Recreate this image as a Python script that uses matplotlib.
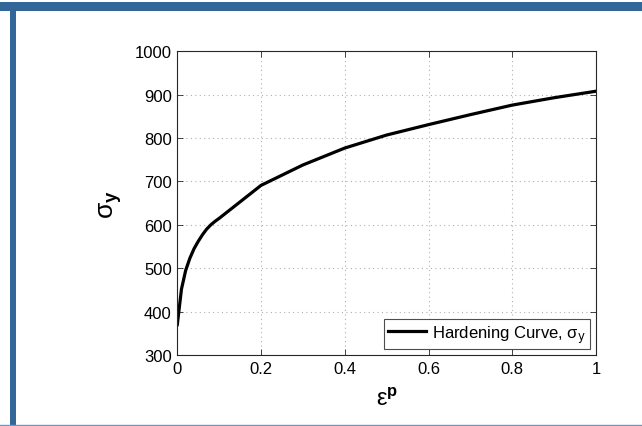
import matplotlib
matplotlib.use("Agg")
import matplotlib.pyplot as plt
from matplotlib.patches import Rectangle
from matplotlib.lines import Line2D

plt.rcParams['font.family'] = ['Liberation Sans', 'DejaVu Sans']
plt.rcParams['mathtext.fontset'] = 'custom'
plt.rcParams['mathtext.rm'] = 'Liberation Sans'
plt.rcParams['mathtext.bf'] = 'Liberation Sans:bold'
plt.rcParams['mathtext.it'] = 'Liberation Sans:italic'

# Plastic strain and yield stress along the hardening curve
plastic_strain = [0.0, 0.01, 0.02, 0.03, 0.04, 0.05, 0.06, 0.07, 0.08, 0.09, 0.1,
                  0.2, 0.3, 0.4, 0.5, 0.6, 0.7, 0.8, 0.9, 1.0]
yield_stress = [370, 452, 495, 523, 545, 562, 577, 590, 600, 608, 615,
                691, 738, 777, 807, 831, 854, 876, 893, 908]

x_ticks = [0, 0.2, 0.4, 0.6, 0.8, 1]
x_tick_labels = ['0', '0.2', '0.4', '0.6', '0.8', '1']
y_ticks = [300, 400, 500, 600, 700, 800, 900, 1000]
y_tick_labels = [str(v) for v in y_ticks]
legend_label = r'Hardening Curve, σ$_{\mathrm{\mathsf{y}}}$'

fig = plt.figure(figsize=(6.42, 4.27), dpi=100)
fig.patch.set_facecolor('white')

# page frame: top band, left bar, thin bottom rule
frame_color = '#336699'
fig.add_artist(Rectangle((0, 1 - 11.7 / 427), 1, 8.4 / 427, transform=fig.transFigure,
                         facecolor=frame_color, edgecolor='none'))
fig.add_artist(Rectangle((10 / 642, 0), 6 / 642, 1 - 11.7 / 427, transform=fig.transFigure,
                         facecolor=frame_color, edgecolor='none'))
fig.add_artist(Line2D([0, 1], [1.3 / 427, 1.3 / 427], transform=fig.transFigure,
                      color='#6f97c2', lw=1.0))

ax = fig.add_axes([177.3 / 642, 1 - 356 / 427, (596 - 177.3) / 642, (356 - 52.3) / 427])
ax.plot(plastic_strain, yield_stress, color='black', lw=2.3, label=legend_label,
        solid_joinstyle='round')

ax.set_xlim(0, 1)
ax.set_ylim(300, 1000)
ax.set_xticks(x_ticks)
ax.set_xticklabels(x_tick_labels)
ax.set_yticks(y_ticks)
ax.set_yticklabels(y_tick_labels)
ax.tick_params(direction='in', top=True, right=True, length=4, width=0.6,
               labelsize=12, pad=4, colors='#262626', labelcolor='black')
ax.grid(True, linestyle=(0, (1, 3)), color='#b0b0b0', lw=0.8)
for s in ax.spines.values():
    s.set_linewidth(0.8)
    s.set_color('#262626')

ax.set_xlabel(r'ε$^{\mathbf{p}}$', fontsize=17, labelpad=9)
ax.set_ylabel(r'σ$_{\mathbf{y}}$', fontsize=19, labelpad=8)

leg = ax.legend(loc='lower right', prop={'size': 12}, frameon=True, fancybox=False,
                borderaxespad=0.35, handlelength=2.3, handletextpad=0.35,
                borderpad=0.25, framealpha=1)
leg.get_frame().set_edgecolor('#4d4d4d')
leg.get_frame().set_linewidth(0.8)

fig.savefig('out.png', dpi=100, facecolor='white')
